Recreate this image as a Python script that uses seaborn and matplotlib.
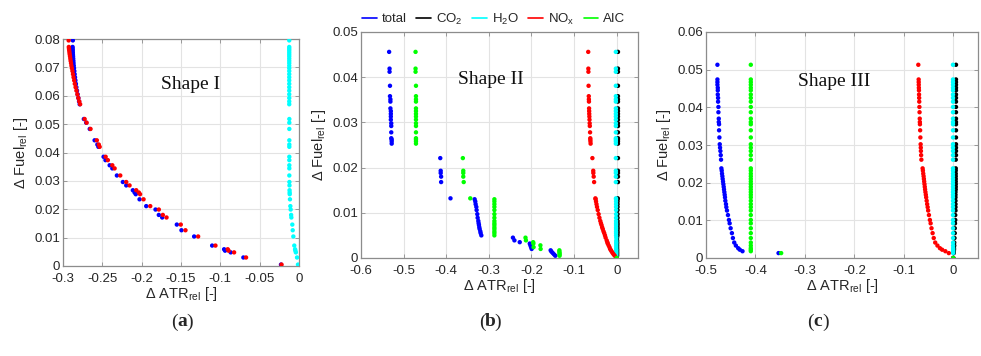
import numpy as np
import pandas as pd
import matplotlib
matplotlib.use("Agg")
import matplotlib.pyplot as plt
from matplotlib.lines import Line2D
from matplotlib.ticker import MultipleLocator, FuncFormatter
import seaborn as sns

species = ["total", "CO2", "H2O", "NOx", "AIC"]
legend_labels = ["total", "CO$_2$", "H$_2$O", "NO$_x$", "AIC"]
colors = {"total": "#0000ff", "CO2": "#000000", "H2O": "#00ffff",
          "NOx": "#ff0000", "AIC": "#00ff00"}

# ---- (a) Shape I ----
fuel_a = [0.0795, 0.0772, 0.0766, 0.0760, 0.0753, 0.0746, 0.0739, 0.0731, 0.0723, 0.0715,
          0.0706, 0.0697, 0.0687, 0.0676, 0.0665, 0.0654, 0.0642, 0.0630, 0.0618, 0.0605,
          0.0592, 0.0580, 0.0570,
          0.0518, 0.0505, 0.0483, 0.0443, 0.0428, 0.0420, 0.0385, 0.0373, 0.0355, 0.0344,
          0.0319, 0.0296, 0.0284, 0.0267, 0.0259, 0.0253, 0.0235, 0.0211, 0.0199, 0.0180,
          0.0171, 0.0146, 0.0126, 0.0104, 0.0072, 0.0059, 0.0054, 0.0048, 0.0030, 0.0005]
total_a = [-0.2875, -0.2878, -0.2877, -0.2876, -0.2875, -0.2874, -0.2872, -0.2870, -0.2868, -0.2866,
           -0.2863, -0.2860, -0.2856, -0.2852, -0.2847, -0.2842, -0.2836, -0.2830, -0.2822, -0.2814,
           -0.2805, -0.2796, -0.2788,
           -0.2735, -0.2705, -0.2660, -0.2598, -0.2563, -0.2550, -0.2484, -0.2460, -0.2407, -0.2373,
           -0.2315, -0.2239, -0.2196, -0.2112, -0.2090, -0.2075, -0.2027, -0.1942, -0.1824, -0.1782,
           -0.1739, -0.1553, -0.1494, -0.1333, -0.1104, -0.0952, -0.0940, -0.0868, -0.0707, -0.0229]
nox_a = [-0.2928, -0.2926, -0.2924, -0.2921, -0.2918, -0.2915, -0.2911, -0.2907, -0.2903, -0.2898,
         -0.2893, -0.2887, -0.2880, -0.2873, -0.2866, -0.2858, -0.2850, -0.2840, -0.2829, -0.2817,
         -0.2805, -0.2793, -0.2782,
         -0.2725, -0.2700, -0.2650, -0.2570, -0.2545, -0.2534, -0.2458, -0.2430, -0.2373, -0.2344,
         -0.2272, -0.2196, -0.2154, -0.2069, -0.2036, -0.2020, -0.1976, -0.1891, -0.1782, -0.1731,
         -0.1684, -0.1503, -0.1443, -0.1282, -0.1062, -0.0906, -0.0895, -0.0825, -0.0673, -0.0222]
h2o_a = [-0.0124, -0.0124, -0.0124, -0.0124, -0.0124, -0.0124, -0.0124, -0.0124, -0.0124, -0.0124,
         -0.0124, -0.0124, -0.0124, -0.0124, -0.0124, -0.0124, -0.0124, -0.0124, -0.0124, -0.0124,
         -0.0124, -0.0124, -0.0124,
         -0.0123, -0.0123, -0.0123, -0.0123, -0.0123, -0.0123, -0.0123, -0.0123, -0.0123, -0.0123,
         -0.0123, -0.0122, -0.0121, -0.0120, -0.0119, -0.0118, -0.0115, -0.0110, -0.0106, -0.0100,
         -0.0097, -0.0085, -0.0080, -0.0072, -0.0060, -0.0050, -0.0046, -0.0040, -0.0025, -0.0013]

# ---- (b) Shape II ----
fuel_b = [0.0456, 0.0419, 0.0412, 0.0381, 0.0358, 0.0351, 0.0346, 0.0331, 0.0325, 0.0319,
          0.0313, 0.0306, 0.0298, 0.0292, 0.0278, 0.0265, 0.0262, 0.0258, 0.0253,
          0.0221, 0.0193, 0.0188, 0.0180, 0.0168,
          0.0132,
          0.0130, 0.0125, 0.0119, 0.0113, 0.0106, 0.0097, 0.0089, 0.0082, 0.0077, 0.0073,
          0.0068, 0.0064, 0.0059, 0.0055, 0.0050,
          0.0045, 0.0039, 0.0035, 0.0032, 0.0028, 0.0024, 0.0020, 0.0017, 0.0014, 0.0011,
          0.0008, 0.0005, 0.0]
total_b = [-0.534, -0.533, -0.533, -0.532, -0.532, -0.531, -0.531, -0.531, -0.530, -0.530,
           -0.530, -0.530, -0.529, -0.529, -0.529, -0.529, -0.528, -0.528, -0.528,
           -0.414, -0.413, -0.413, -0.412, -0.412,
           -0.390,
           -0.3334, -0.3318, -0.3310, -0.3294, -0.3287, -0.3271, -0.3263, -0.3247, -0.3240, -0.3232,
           -0.3224, -0.3216, -0.3200, -0.3193, -0.3176,
           -0.2435, -0.2400, -0.2275, -0.2040, -0.2025, -0.2010, -0.1995, -0.1550, -0.1530, -0.1500,
           -0.1470, -0.1440, 0.0]
co2_b = [0.003, 0.003, 0.003, 0.003, 0.003, 0.003, 0.003, 0.003, 0.003, 0.003,
         0.003, 0.003, 0.003, 0.003, 0.003, 0.003, 0.003, 0.003, 0.003,
         0.003, 0.003, 0.003, 0.003, 0.003,
         0.0025,
         0.002, 0.002, 0.002, 0.002, 0.002, 0.002, 0.002, 0.002, 0.002, 0.002,
         0.002, 0.002, 0.002, 0.002, 0.002,
         0.001, 0.001, 0.001, 0.001, 0.001, 0.001, 0.001, 0.001, 0.001, 0.001,
         0.001, 0.001, 0.0]
h2o_b = [-0.002, -0.002, -0.002, -0.002, -0.002, -0.002, -0.002, -0.002, -0.002, -0.002,
         -0.002, -0.002, -0.002, -0.002, -0.002, -0.002, -0.002, -0.002, -0.002,
         -0.002, -0.002, -0.002, -0.002, -0.002,
         -0.0018,
         -0.0015, -0.0015, -0.0015, -0.0015, -0.0015, -0.0015, -0.0015, -0.0015, -0.0015, -0.0015,
         -0.0015, -0.0015, -0.0015, -0.0015, -0.0015,
         -0.001, -0.001, -0.001, -0.001, -0.001, -0.001, -0.001, -0.001, -0.001, -0.001,
         -0.001, -0.001, 0.0]
nox_b = [-0.0668, -0.0665, -0.0664, -0.0660, -0.0655, -0.0653, -0.0651, -0.0648, -0.0646, -0.0644,
         -0.0641, -0.0638, -0.0634, -0.0631, -0.0625, -0.0620, -0.0618, -0.0616, -0.0612,
         -0.0570, -0.0550, -0.0548, -0.0540, -0.0530,
         -0.0500,
         -0.0494, -0.0485, -0.0474, -0.0462, -0.0445, -0.0424, -0.0405, -0.0385, -0.0370, -0.0356,
         -0.0342, -0.0326, -0.0310, -0.0293, -0.0275,
         -0.0260, -0.0235, -0.0220, -0.0210, -0.0190, -0.0170, -0.0155, -0.0135, -0.0115, -0.0095,
         -0.0072, -0.0045, 0.0]
aic_b = [-0.472, -0.472, -0.472, -0.471, -0.471, -0.471, -0.471, -0.471, -0.471, -0.471,
         -0.471, -0.471, -0.471, -0.471, -0.471, -0.471, -0.471, -0.471, -0.471,
         -0.361, -0.360, -0.360, -0.360, -0.359,
         -0.3436,
         -0.287, -0.287, -0.287, -0.287, -0.287, -0.287, -0.287, -0.287, -0.287, -0.287,
         -0.287, -0.287, -0.287, -0.287, -0.287,
         -0.2140, -0.2130, -0.1960, -0.1955, -0.1790, -0.1950, -0.1785, -0.1345, -0.1345, -0.1340,
         -0.1340, -0.1340, 0.0]

# ---- (c) Shape III ----
fuel_c = [0.0513, 0.0474, 0.0467, 0.0460, 0.0452, 0.0445, 0.0434, 0.0425, 0.0415, 0.0401,
          0.0387, 0.0370, 0.0361, 0.0355, 0.0339, 0.0320, 0.0302, 0.0293, 0.0284, 0.0273,
          0.0261, 0.0238, 0.0232, 0.0224, 0.0217, 0.0210, 0.0203, 0.0196, 0.0189, 0.0182,
          0.0175, 0.0168, 0.0161, 0.0152, 0.0143, 0.0135, 0.0126, 0.0114, 0.0101, 0.0092,
          0.0079, 0.0066, 0.0053, 0.0041, 0.0033, 0.0026, 0.0022, 0.0018, 0.0013, 0.0]
total_c = [-0.4769, -0.4769, -0.4769, -0.4769, -0.4762, -0.4762, -0.4762, -0.4756, -0.4756, -0.4749,
           -0.4749, -0.4742, -0.4742, -0.4736, -0.4736, -0.4729, -0.4722, -0.4716, -0.4709, -0.4702,
           -0.4696, -0.4689, -0.4682, -0.4676, -0.4669, -0.4663, -0.4656, -0.4649, -0.4642, -0.4636,
           -0.4629, -0.4622, -0.4616, -0.4609, -0.4596, -0.4589, -0.4576, -0.4556, -0.4536, -0.4522,
           -0.4502, -0.4476, -0.4456, -0.4429, -0.4396, -0.4349, -0.4316, -0.4262, -0.3533, 0.0]
co2_c = [0.0055, 0.0055, 0.0055, 0.0055, 0.0055, 0.0055, 0.0055, 0.0055, 0.0055, 0.0055,
         0.0055, 0.0055, 0.0055, 0.0055, 0.0055, 0.0055, 0.0055, 0.0055, 0.0055, 0.0055,
         0.0050, 0.0050, 0.0050, 0.0050, 0.0050, 0.0050, 0.0050, 0.0050, 0.0050, 0.0050,
         0.0045, 0.0045, 0.0045, 0.0045, 0.0045, 0.0045, 0.0045, 0.0040, 0.0040, 0.0035,
         0.0030, 0.0030, 0.0025, 0.0020, 0.0020, 0.0015, 0.0015, 0.0010, 0.0010, 0.0]
h2o_c = [-0.0006, -0.0006, -0.0006, -0.0006, -0.0006, -0.0006, -0.0006, -0.0006, -0.0006, -0.0006,
         -0.0006, -0.0006, -0.0006, -0.0006, -0.0006, -0.0006, -0.0006, -0.0006, -0.0006, -0.0006,
         -0.0006, -0.0006, -0.0006, -0.0006, -0.0006, -0.0006, -0.0006, -0.0006, -0.0006, -0.0006,
         -0.0006, -0.0006, -0.0006, -0.0006, -0.0006, -0.0006, -0.0006, -0.0006, -0.0006, -0.0006,
         -0.0005, -0.0005, -0.0005, -0.0004, -0.0004, -0.0003, -0.0003, -0.0002, -0.0002, 0.0]
nox_c = [-0.0707, -0.0700, -0.0699, -0.0698, -0.0696, -0.0694, -0.0692, -0.0690, -0.0688, -0.0685,
         -0.0682, -0.0678, -0.0676, -0.0674, -0.0670, -0.0665, -0.0660, -0.0657, -0.0654, -0.0650,
         -0.0645, -0.0620, -0.0614, -0.0607, -0.0600, -0.0594, -0.0588, -0.0582, -0.0576, -0.0570,
         -0.0563, -0.0555, -0.0548, -0.0538, -0.0528, -0.0518, -0.0508, -0.0492, -0.0473, -0.0458,
         -0.0440, -0.0418, -0.0395, -0.0365, -0.0320, -0.0270, -0.0225, -0.0160, -0.0090, 0.0]
aic_c = [-0.4094, -0.4094, -0.4094, -0.4094, -0.4094, -0.4094, -0.4094, -0.4094, -0.4094, -0.4094,
         -0.4094, -0.4094, -0.4094, -0.4094, -0.4094, -0.4094, -0.4094, -0.4094, -0.4094, -0.4094,
         -0.4094, -0.4094, -0.4094, -0.4094, -0.4094, -0.4094, -0.4094, -0.4094, -0.4094, -0.4094,
         -0.4094, -0.4094, -0.4094, -0.4094, -0.4094, -0.4094, -0.4094, -0.4094, -0.4094, -0.4094,
         -0.4094, -0.4094, -0.4094, -0.4094, -0.4094, -0.4094, -0.4094, -0.4094, -0.3480, 0.0]


def long_df(fuel, series):
    parts = []
    for name, atr in series.items():
        parts.append(pd.DataFrame({"atr": atr, "fuel": fuel, "species": name}))
    return pd.concat(parts, ignore_index=True)


df_a = long_df(fuel_a, {"total": total_a, "H2O": h2o_a, "NOx": nox_a})
df_b = long_df(fuel_b, {"total": total_b, "CO2": co2_b, "H2O": h2o_b, "NOx": nox_b, "AIC": aic_b})
df_c = long_df(fuel_c, {"total": total_c, "CO2": co2_c, "H2O": h2o_c, "NOx": nox_c, "AIC": aic_c})

sns.set_theme(style="whitegrid")
plt.rcParams["font.family"] = ["Liberation Sans", "DejaVu Sans"]
plt.rcParams["mathtext.default"] = "regular"

W, H = 981, 356
fig = plt.figure(figsize=(W / 100, H / 100), dpi=100)

def px_axes(l, t, r, b):
    return fig.add_axes([l / W, 1 - b / H, (r - l) / W, (b - t) / H])

panels = [
    (px_axes(63, 39, 299, 266), df_a, (-0.3, 0.0), 0.05, (0, 0.08), "Shape I", (0.54, 0.80)),
    (px_axes(361, 32, 638, 258), df_b, (-0.6, 0.05), 0.1, (0, 0.05), "Shape II", (0.47, 0.79)),
    (px_axes(706, 32, 978, 258), df_c, (-0.5, 0.05), 0.1, (0, 0.06), "Shape III", (0.47, 0.78)),
]

fmt = FuncFormatter(lambda v, p: "%g" % round(v, 4))
for ax, df, xl, xstep, yl, title, tpos in panels:
    sns.scatterplot(data=df, x="atr", y="fuel", hue="species", palette=colors,
                    s=10, linewidth=0, legend=False, ax=ax, zorder=3)
    ax.set_xlim(*xl)
    ax.set_ylim(*yl)
    ax.xaxis.set_major_locator(MultipleLocator(xstep))
    ax.yaxis.set_major_locator(MultipleLocator(0.01))
    ax.xaxis.set_major_formatter(fmt)
    ax.yaxis.set_major_formatter(fmt)
    ax.grid(True, color="#e3e3e3", linewidth=0.8)
    for sp in ax.spines.values():
        sp.set_color("#8c8c8c")
        sp.set_linewidth(0.9)
    ax.tick_params(direction="in", length=3, width=0.6, color="#8c8c8c",
                   left=True, bottom=True, top=True, right=True,
                   labelsize=9.5, labelcolor="#262626", pad=2)
    ax.tick_params(axis="x", pad=5)
    ax.set_xlabel("Δ ATR$_{rel}$ [-]", fontsize=10.5, color="#262626", labelpad=0)
    ax.set_ylabel("Δ Fuel$_{rel}$ [-]", fontsize=10.5, color="#262626", labelpad=3)
    ax.text(tpos[0], tpos[1], title, transform=ax.transAxes, ha="center", va="center",
            fontsize=14, family="Liberation Serif", color="#111111")

handles = [Line2D([], [], color=colors[s], lw=1.2) for s in species]
panels[1][0].legend(handles, legend_labels, loc="lower center", bbox_to_anchor=(0.48, 0.995),
                    ncol=5, frameon=False, fontsize=9.5, handlelength=1.1,
                    handletextpad=0.4, columnspacing=0.7, borderaxespad=0.1)

# panel letters: normal parentheses, bold letter, serif
for letter, xp in [("a", 182), ("b", 490), ("c", 818)]:
    y = 1 - 322 / H
    fig.text(xp / W, y, letter, ha="center", va="center", fontsize=14,
             family="Liberation Serif", weight="bold")
    fig.text(xp / W - 4.5 / W, y, "(", ha="right", va="center", fontsize=14,
             family="Liberation Serif")
    fig.text(xp / W + 4.5 / W, y, ")", ha="left", va="center", fontsize=14,
             family="Liberation Serif")

fig.savefig("out.png", dpi=100, facecolor="white")
